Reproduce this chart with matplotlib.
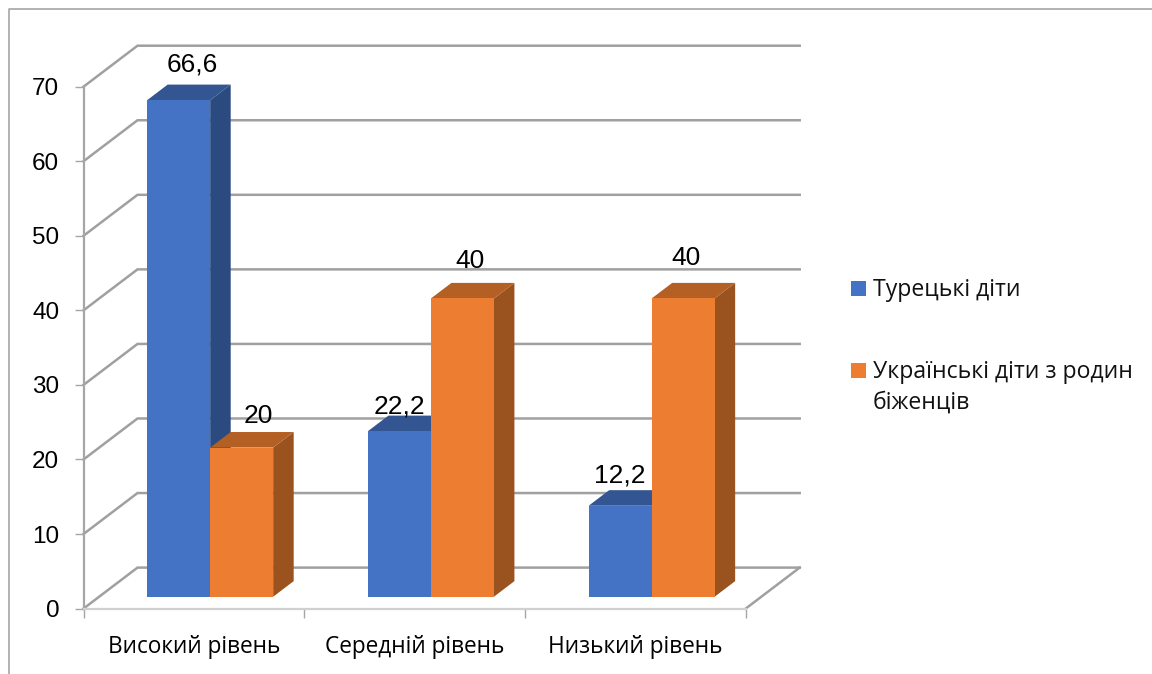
import matplotlib
matplotlib.use('Agg')
import matplotlib.pyplot as plt
from matplotlib.lines import Line2D
from matplotlib.patches import Polygon, Rectangle

categories = ['Високий рівень', 'Середній рівень', 'Низький рівень']
series_names = ['Турецькі діти', 'Українські діти з родин\nбіженців']
turkish = [66.6, 22.2, 12.2]
ukrainian = [20, 40, 40]
y_ticks = [0, 10, 20, 30, 40, 50, 60, 70]

W, H = 1152, 674
X0, X3 = 83.5, 745.7      # pixel span of the category axis
Y0, Y70 = 608.6, 86.7     # pixel span of the value axis

# wall depth in data units
DEPTH_X = 54 / ((X3 - X0) / 3)
DEPTH_Y = 41 / ((Y0 - Y70) / 70)

BAR_W = 63 / ((X3 - X0) / 3)
BAR_GAP = 0.2175
BAR_NEAR = 0.29           # depth fraction of the front bar face
BAR_FAR = 0.67

front_colors = ['#4472C4', '#ED7D31']
top_colors = ['#335592', '#B45F24']
side_colors = ['#2B4A80', '#9A521E']
GRID = '#A0A0A0'

# label offsets from the top of each bar's front face, in points
label_dx = [[10, 12], [0, 5.5], [0, 2]]
label_dy = [[26, 23], [18, 27], [22, 29]]


def project(x, v, d):
    return x + d * DEPTH_X, v + d * DEPTH_Y


def draw_bar(ax, left, value, s):
    right = left + BAR_W
    front = [project(left, 0, BAR_NEAR), project(right, 0, BAR_NEAR),
             project(right, value, BAR_NEAR), project(left, value, BAR_NEAR)]
    top = [project(left, value, BAR_NEAR), project(right, value, BAR_NEAR),
           project(right, value, BAR_FAR), project(left, value, BAR_FAR)]
    side = [project(right, 0, BAR_NEAR), project(right, 0, BAR_FAR),
            project(right, value, BAR_FAR), project(right, value, BAR_NEAR)]
    ax.add_patch(Polygon(side, fc=side_colors[s], ec='none', zorder=3, clip_on=False))
    ax.add_patch(Polygon(top, fc=top_colors[s], ec='none', zorder=3, clip_on=False))
    ax.add_patch(Polygon(front, fc=front_colors[s], ec='none', zorder=3, clip_on=False))


fig = plt.figure(figsize=(W / 100, H / 100), dpi=100)
ax = fig.add_axes([X0 / W, 1 - Y0 / H, (X3 - X0) / W, (Y0 - Y70) / H])
ax.set_xlim(0, 3)
ax.set_ylim(0, 70)
ax.patch.set_visible(False)

for name in ['top', 'right']:
    ax.spines[name].set_visible(False)
ax.spines['left'].set_color('#A6A6A6')
ax.spines['left'].set_linewidth(1.6)
ax.spines['bottom'].set_color('#D0D0D0')
ax.spines['bottom'].set_linewidth(1.6)

ax.set_yticks(y_ticks)
ax.tick_params(axis='y', length=6.5, width=1, color='#A6A6A6', pad=11,
               labelsize=17.5, labelfontfamily='Liberation Sans')
ax.set_xticks([0, 1, 2, 3])
ax.set_xticklabels([])
ax.set_xticks([0.5, 1.5, 2.5], categories, minor=True)
ax.tick_params(axis='x', which='major', length=6.5, width=1, color='#A6A6A6')
ax.tick_params(axis='x', which='minor', length=0, pad=19, labelsize=16.3,
               labelfontfamily='Open Sans')

# side wall and back wall gridlines
for v in y_ticks:
    bx, by = project(0, v, 1)
    ax.plot([0, bx, 3 + DEPTH_X], [v, by, by], color=GRID, lw=1.8, zorder=1,
            clip_on=False, solid_joinstyle='miter')
fx, fy = project(3, 0, 1)
ax.plot([3, fx], [0, fy], color=GRID, lw=1.8, zorder=1, clip_on=False)

# bars and their value labels
for i in range(len(categories)):
    for s, values in enumerate([turkish, ukrainian]):
        left = i + BAR_GAP + s * BAR_W
        draw_bar(ax, left, values[i], s)
        tx, ty = project(left + BAR_W / 2, values[i], BAR_NEAR)
        ax.annotate(str(values[i]).replace('.', ','), (tx, ty),
                    xytext=(label_dx[i][s], label_dy[i][s]), textcoords='offset points',
                    ha='center', va='center', fontsize=19, family='Liberation Sans',
                    color='black', zorder=6, annotation_clip=False)

# legend
legend_y = [288, 370]
for name, color, py in zip(series_names, front_colors, legend_y):
    fig.add_artist(Rectangle((851 / W, 1 - (py + 8) / H), 15 / W, 15 / H,
                             transform=fig.transFigure, fc=color, ec='none'))
    fig.text(873 / W, 1 - (py - 9.5) / H, name, ha='left', va='top', fontsize=16.6,
             family='Open Sans', color='#111111', linespacing=1.36)

# chart frame, open to the right and bottom
fig.add_artist(Line2D([9.3 / W, 9.3 / W, 1], [0, 1 - 9 / H, 1 - 9 / H],
                      color='#A6A6A6', lw=1.2, transform=fig.transFigure))

fig.savefig('out.png', dpi=100)
